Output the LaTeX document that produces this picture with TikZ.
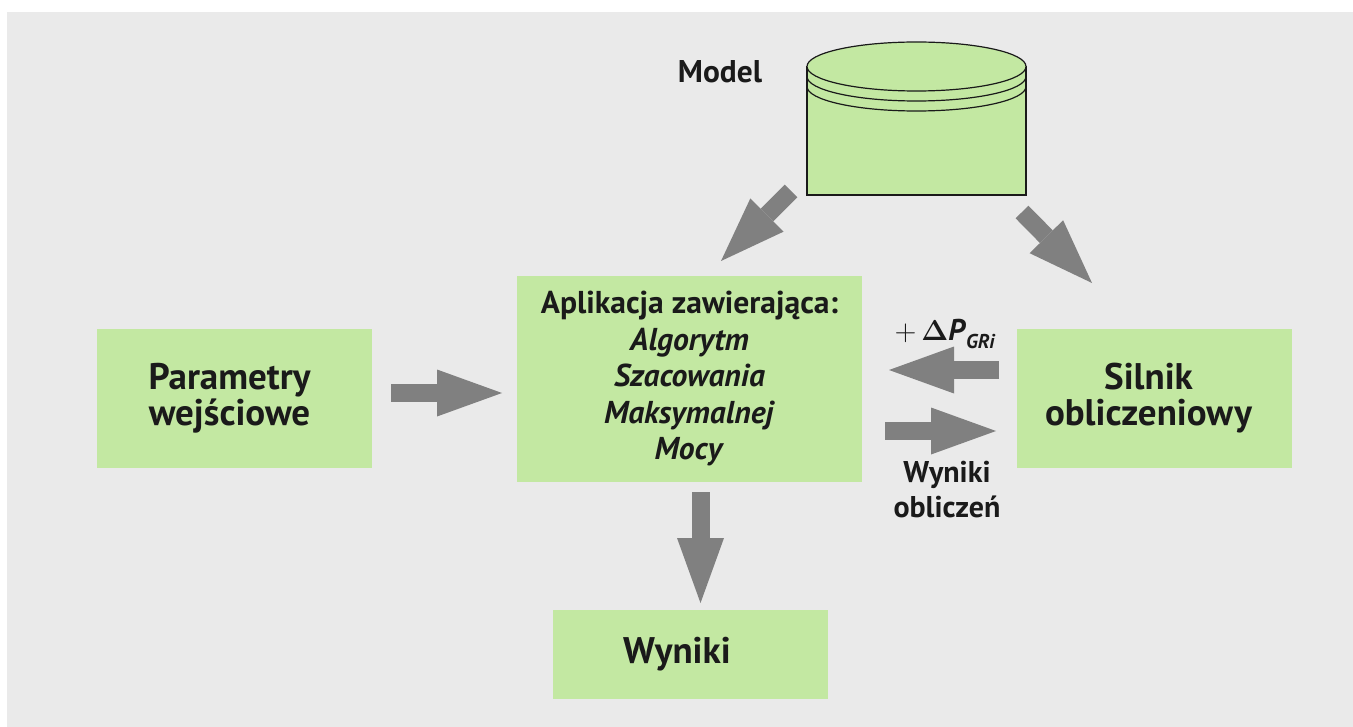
\documentclass[tikz,border=0pt]{standalone}
\usepackage{amsmath}
\usepackage[no-math]{fontspec}
\setmainfont{PT Sans}
\usetikzlibrary{arrows.meta,calc}
\definecolor{boxgreen}{HTML}{C3E8A2}
\definecolor{panelgray}{HTML}{EAEAEA}
\definecolor{arrowgray}{HTML}{808080}
\definecolor{inkdark}{HTML}{1A1A1A}
\tikzset{
	block/.style={
			fill=boxgreen, text=inkdark, align=center,
			inner sep=0pt, outer sep=0pt
		},
	bigarrow/.style={
			draw=arrowgray, line width=9pt,
			-{Triangle[length=32.5pt, width=23.5pt, line width=0pt]}
		},
	caption/.style={text=inkdark, align=center, inner sep=0pt}
}

\begin{document}
\begin{tikzpicture}[x=0.5pt, y=-0.5pt]
		% Fix the frame and draw the panel
		\useasboundingbox (0,0) rectangle (1353,727);
		\fill[panelgray] (7,12) rectangle (1353,727);

		% Draw the model cylinder
		\node[minimum width=109.5pt, minimum height=76.5pt, inner sep=0pt, outer sep=0pt] (model) at (916.5,118.5) {};
		\filldraw[fill=boxgreen, draw=inkdark, line width=0.6pt] (807,66.5) -- (807,195) -- (1026,195) -- (1026,66.5) -- cycle;
		\draw[inkdark, line width=0.6pt] (807,86.5) arc[start angle=180, end angle=0, x radius=109.5, y radius=24.5];
		\draw[inkdark, line width=0.6pt] (807,76.5) arc[start angle=180, end angle=0, x radius=109.5, y radius=24.5];
		\filldraw[fill=boxgreen, draw=inkdark, line width=0.6pt] (916.5,66.5) ellipse [x radius=109.5, y radius=24.5];
		\node[caption, font=\bfseries\fontsize{15.7}{18}\selectfont] (modeltxt) at (720,72) {Model};

		% Draw the boxes
		\node[block, minimum width=137.5pt, minimum height=69.5pt, font=\bfseries\fontsize{18.5}{18}\selectfont] (param) at (234.5,398.5) {Parametry\hspace*{5pt}\\wejściowe\hspace*{5pt}};
		\node[block, minimum width=172.5pt, minimum height=103pt, font=\bfseries\fontsize{15.8}{18.25}\selectfont] (app) at (689.5,379) {Aplikacja zawierająca:\\\textit{Algorytm}\\\textit{Szacowania}\\\textit{Maksymalnej}\\\textit{Mocy}};
		\node[block, minimum width=137.5pt, minimum height=69.5pt, font=\bfseries\fontsize{18.5}{18}\selectfont] (silnik) at (1154.5,398.5) {Silnik\hspace*{6pt}\\obliczeniowy\hspace*{6pt}};
		\node[block, minimum width=137.5pt, minimum height=44.5pt, font=\bfseries\fontsize{18.5}{18}\selectfont] (wyniki) at (690.5,654.5) {Wyniki\hspace*{13.5pt}};

		% Draw the block arrows
		\draw[bigarrow, shorten <=9.5pt, shorten >=7.5pt] ($(param.east)+(0,-5.5)$) -- ($(param.east -| app.west)+(0,-5.5)$);
		\draw[bigarrow, shorten <=9pt, shorten >=13.5pt] ($(silnik.west)+(0,-28.5)$) -- ($(silnik.west -| app.east)+(0,-28.5)$);
		\draw[bigarrow, shorten <=11.5pt, shorten >=10.5pt] ($(silnik.west -| app.east)+(0,32.5)$) -- ($(silnik.west)+(0,32.5)$);
		\draw[bigarrow, shorten <=5pt, shorten >=3.5pt] ($(app.south)+(11,0)$) -- ($(app.south |- wyniki.north)+(11,0)$);
		\draw[bigarrow] ($(model.south west)+(-16,-4)$) -- ($(app.north)+(31.5,-15)$);
		\draw[bigarrow] ($(model.south east)+(-4,17)$) -- ($(silnik.north)+(-62.5,-46)$);

		% Label the exchange
		\node[caption, font=\bfseries\fontsize{15}{17.5}\selectfont] (delta) at (945,334) {$+\,\mathbf{\Delta}$\textit{P}\raisebox{-0.5ex}{\fontsize{10}{12}\selectfont\textit{GRi}}};
		\node[caption, font=\bfseries\fontsize{15}{17.5}\selectfont] (results) at (947,490) {Wyniki\\obliczeń};
	\end{tikzpicture}
\end{document}
